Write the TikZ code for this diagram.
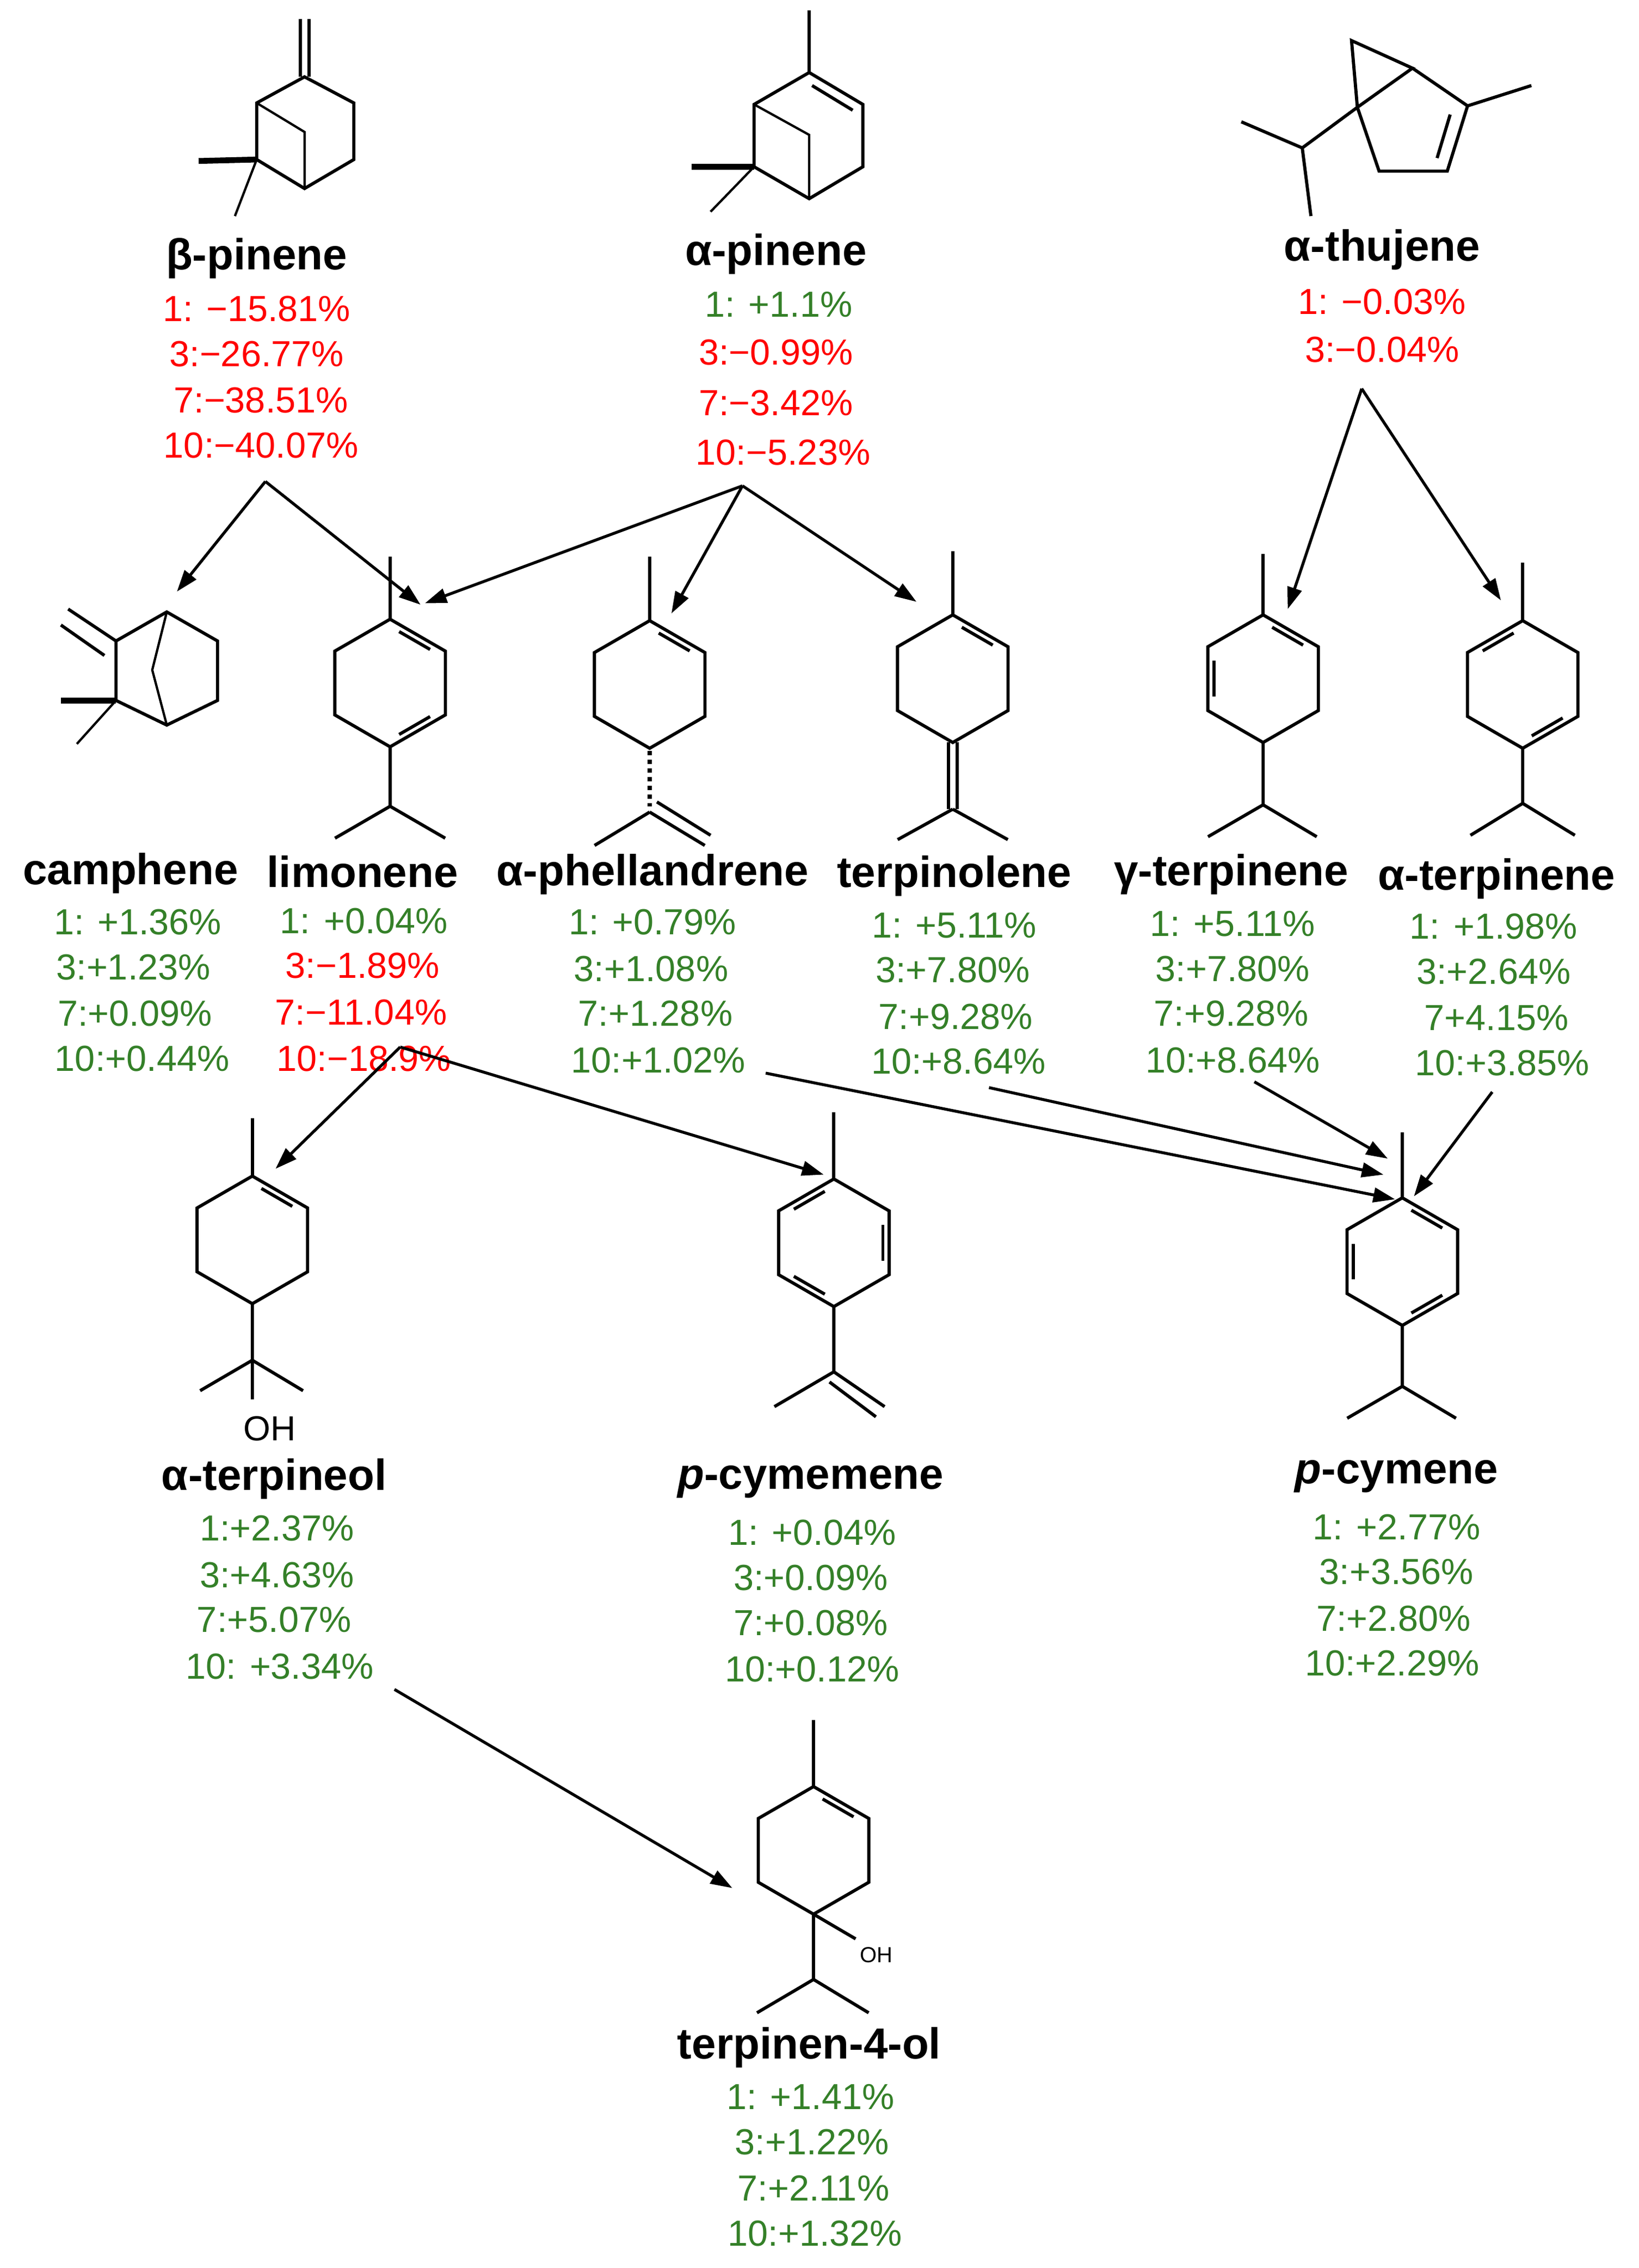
\documentclass[tikz,border=0pt]{standalone}
\usepackage{fontspec}
\setmainfont{Liberation Sans}
\usetikzlibrary{arrows.meta}
\definecolor{pred}{RGB}{255,0,0}
\definecolor{pgreen}{RGB}{52,128,40}
\newcommand\hring[3]{%
  \draw[bond,shift={(#1,#2)}] (-90:44)--(-30:44)--(30:44)--(90:44)--(150:44)--(210:44)--cycle;
  \foreach \k in {#3}{\draw[bond,shift={(#1,#2)}] ({-90+60*(\k-1)+10}:36) -- ({-30+60*(\k-1)-10}:36);}}
\begin{document}
\begin{tikzpicture}[x=1pt,y=-1pt,
  bond/.style={line width=2.2pt,line join=miter,line cap=butt},
  thin/.style={line width=1.6pt},
  heavy/.style={line width=4pt},
  arr/.style={line width=2pt,-{Triangle[length=15pt,width=10pt]}},
  nm/.style={font=\bfseries\fontsize{30}{30}\selectfont,inner sep=0pt},
  pc/.style={font=\fontsize{25}{25}\selectfont,inner sep=0pt},
  rd/.style={pc,text=pred},
  gr/.style={pc,text=pgreen}]
\useasboundingbox (0,0) rectangle (1130,1564);
\fill[white] (0,0) rectangle (1130,1564);

% ---------- beta-pinene
\draw[bond] (210,53)--(244,71)--(244,110)--(210,130)--(177,110)--(177,71)--cycle;
\draw[thin] (177,71)--(210,91)--(210,130);
\draw[bond] (207,13)--(207,53) (213,13)--(213,53);
\draw[heavy] (177,110)--(137,111);
\draw[thin] (177,110)--(162,149);
% ---------- alpha-pinene
\draw[bond] (558,50)--(595,72)--(595,115)--(558,137)--(520,115)--(520,72)--cycle;
\draw[thin] (520,72)--(558,93)--(558,137);
\draw[bond] (560,59)--(588,76);
\draw[bond] (558,50)--(558,7);
\draw[heavy] (520,115)--(477,115);
\draw[thin] (520,115)--(490,146);
% ---------- alpha-thujene
\draw[bond] (932,28)--(974,47)--(936,74)--cycle;
\draw[bond] (974,47)--(1012,73)--(998,118)--(951,118)--(936,74);
\draw[bond] (1000,79)--(991,109);
\draw[bond] (1012,73)--(1056,59);
\draw[bond] (936,74)--(898,102)--(856,84) (898,102)--(904,149);

% ---------- camphene
\draw[bond] (115,422)--(150,442)--(150,483)--(115,500)--(80,483)--(80,442)--cycle;
\draw[thin] (115,422)--(105,462)--(115,500);
\draw[bond] (80,442)--(47,420) (72,452)--(42,431);
\draw[heavy] (80,483)--(42,483);
\draw[thin] (80,483)--(53,513);
% ---------- limonene
\hring{269}{471}{1,3}
\draw[bond] (269,427)--(269,384);
\draw[bond] (269,515)--(269,556)--(231,578) (269,556)--(307,578);
% ---------- alpha-phellandrene
\hring{448}{472}{1}
\draw[bond] (448,428)--(448,384);
\draw[line width=3pt,dash pattern=on 3pt off 3pt] (448,518)--(448,556);
\draw[bond] (448,560)--(410,583) (448,560)--(486,583) (453,553)--(490,576);
% ---------- terpinolene
\hring{657}{468}{1}
\draw[bond] (657,424)--(657,380);
\draw[bond] (654,512)--(654,558) (660,512)--(660,558);
\draw[bond] (657,558)--(619,579) (657,558)--(695,579);
% ---------- gamma-terpinene
\hring{871}{468}{1,5}
\draw[bond] (871,424)--(871,382);
\draw[bond] (871,512)--(871,555)--(833,577) (871,555)--(908,577);
% ---------- alpha-terpinene
\hring{1050}{472}{6,3}
\draw[bond] (1050,428)--(1050,388);
\draw[bond] (1050,516)--(1050,554)--(1014,576) (1050,554)--(1086,576);

% ---------- alpha-terpineol
\hring{174}{855}{1}
\draw[bond] (174,811)--(174,771);
\draw[bond] (174,899)--(174,965) (174,938)--(138,959) (174,938)--(209,959);
\node[pc,font=\fontsize{24}{24}\selectfont] (oh1) at (186,985) {OH};
% ---------- p-cymemene
\hring{575}{857}{6,2,4}
\draw[bond] (575,813)--(575,767);
\draw[bond] (575,901)--(575,946)--(534,970) (575,946)--(610,970) (572,953)--(604,977);
% ---------- p-cymene
\hring{967}{870}{1,5,3}
\draw[bond] (967,826)--(967,781);
\draw[bond] (967,914)--(967,956)--(929,978) (967,956)--(1004,978);
% ---------- terpinen-4-ol
\hring{561}{1276}{1}
\draw[bond] (561,1232)--(561,1186);
\draw[bond] (561,1320)--(590,1337);
\node[pc,font=\fontsize{15}{15}\selectfont,anchor=west] (oh2) at (593,1348) {OH};
\draw[bond] (561,1320)--(561,1365)--(522,1388) (561,1365)--(599,1388);

% ---------- labels
\node[nm] (bp) at (177,178) {β-pinene};
\node[rd] at (177,213) {1: −15.81\%};
\node[rd] at (177,244) {3:−26.77\%};
\node[rd] at (180,276) {7:−38.51\%};
\node[rd] at (180,307) {10:−40.07\%};

\node[nm] (ap) at (535,175) {α-pinene};
\node[gr] at (537,210) {1: +1.1\%};
\node[rd] at (535,243) {3:−0.99\%};
\node[rd] at (535,278) {7:−3.42\%};
\node[rd] at (540,312) {10:−5.23\%};

\node[nm] (at) at (953,172) {α-thujene};
\node[rd] at (953,208) {1: −0.03\%};
\node[rd] at (953,241) {3:−0.04\%};

\node[nm] (ca) at (90,602) {camphene};
\node[gr] at (95,636) {1: +1.36\%};
\node[gr] at (92,667) {3:+1.23\%};
\node[gr] at (93,699) {7:+0.09\%};
\node[gr] at (98,730) {10:+0.44\%};

\node[nm] (li) at (250,601) {limonene};
\node[gr] at (251,635) {1: +0.04\%};
\node[rd] at (250,666) {3:−1.89\%};
\node[rd] at (249,698) {7:−11.04\%};
\node[rd] at (251,730) {10:−18.9\%};

\node[nm] (ph) at (450,603) {α-phellandrene};
\node[gr] at (450,636) {1: +0.79\%};
\node[gr] at (449,668) {3:+1.08\%};
\node[gr] at (452,699) {7:+1.28\%};
\node[gr] at (454,731) {10:+1.02\%};

\node[nm] (tl) at (658,604) {terpinolene};
\node[gr] at (658,638) {1: +5.11\%};
\node[gr] at (657,669) {3:+7.80\%};
\node[gr] at (659,701) {7:+9.28\%};
\node[gr] at (661,732) {10:+8.64\%};

\node[nm] (gt) at (849,603) {γ-terpinene};
\node[gr] at (850,637) {1: +5.11\%};
\node[gr] at (850,668) {3:+7.80\%};
\node[gr] at (849,699) {7:+9.28\%};
\node[gr] at (850,731) {10:+8.64\%};

\node[nm] (aT) at (1032,606) {α-terpinene};
\node[gr] at (1030,639) {1: +1.98\%};
\node[gr] at (1030,670) {3:+2.64\%};
\node[gr] at (1032,702) {7+4.15\%};
\node[gr] at (1036,733) {10:+3.85\%};

\node[nm] (tp) at (189,1020) {α-terpineol};
\node[gr] at (191,1054) {1:+2.37\%};
\node[gr] at (191,1086) {3:+4.63\%};
\node[gr] at (189,1117) {7:+5.07\%};
\node[gr] at (193,1149) {10: +3.34\%};

\node[nm] (cm) at (559,1022) {\textit{p}-cymemene};
\node[gr] at (560,1057) {1: +0.04\%};
\node[gr] at (559,1088) {3:+0.09\%};
\node[gr] at (559,1119) {7:+0.08\%};
\node[gr] at (560,1151) {10:+0.12\%};

\node[nm] (cy) at (963,1018) {\textit{p}-cymene};
\node[gr] at (963,1053) {1: +2.77\%};
\node[gr] at (963,1084) {3:+3.56\%};
\node[gr] at (961,1116) {7:+2.80\%};
\node[gr] at (960,1147) {10:+2.29\%};

\node[nm] (t4) at (558,1412) {terpinen-4-ol};
\node[gr] at (559,1446) {1: +1.41\%};
\node[gr] at (560,1477) {3:+1.22\%};
\node[gr] at (561,1509) {7:+2.11\%};
\node[gr] at (562,1540) {10:+1.32\%};

% ---------- arrows
\coordinate (bpo) at (183,332);
\coordinate (apo) at (512,335);
\coordinate (ato) at (939,268);
\coordinate (lio) at (276,722);
\coordinate (pho) at (528,740);
\coordinate (tlo) at (682,750);
\coordinate (gto) at (865,746);
\coordinate (aTo) at (1029,753);
\coordinate (tpo) at (272,1165);
\coordinate (caI) at (122,408);
\coordinate (liI) at (290,417);
\coordinate (liI2) at (293,416);
\coordinate (phI) at (463,423);
\coordinate (tlI) at (632,415);
\coordinate (gtI) at (888,420);
\coordinate (aTI) at (1035,414);
\coordinate (tpI) at (190,806);
\coordinate (cmI) at (568,810);
\coordinate (cyI1) at (962,827);
\coordinate (cyI2) at (954,810);
\coordinate (cyI3) at (957,799);
\coordinate (cyI4) at (975,825);
\coordinate (t4I) at (505,1302);
\draw[arr] (bpo)--(caI);
\draw[arr] (bpo)--(liI);
\draw[arr] (apo)--(liI2);
\draw[arr] (apo)--(phI);
\draw[arr] (apo)--(tlI);
\draw[arr] (ato)--(gtI);
\draw[arr] (ato)--(aTI);
\draw[arr] (lio)--(tpI);
\draw[arr] (lio)--(cmI);
\draw[arr] (pho)--(cyI1);
\draw[arr] (tlo)--(cyI2);
\draw[arr] (gto)--(cyI3);
\draw[arr] (aTo)--(cyI4);
\draw[arr] (tpo)--(t4I);
\end{tikzpicture}
\end{document}
